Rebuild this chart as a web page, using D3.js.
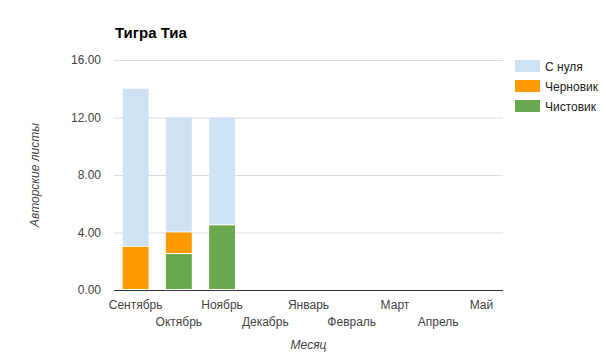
<!DOCTYPE html>
<html>
<head>
<meta charset="utf-8">
<script src="https://cdn.jsdelivr.net/npm/d3@7"></script>
<style>
body{margin:0;background:#fff;}
text{font-family:Arial,"Liberation Sans",sans-serif;}
</style>
</head>
<body>
<svg id="chart"></svg>
<script>
// data
var months=["Сентябрь","Октябрь","Ноябрь","Декабрь","Январь","Февраль","Март","Апрель","Май"]
var clean=[0,2.5,4.5,0,0,0,0,0,0]      // Чистовик
var draft=[3,1.5,0,0,0,0,0,0,0]        // Черновик
var scratch=[11,8,7.5,0,0,0,0,0,0]     // С нуля
var seriesNames=["Чистовик","Черновик","С нуля"]
var yTicks=[0,4,8,12,16]

var colors={"Чистовик":"#6aa84f","Черновик":"#ff9900","С нуля":"#cfe2f3"}

var screen={width:605,height:352}
var margins={left:114,right:102,top:60,bottom:62}
var graph={
    width:screen.width-margins.left-margins.right,
    height:screen.height-margins.top-margins.bottom
}

var svg=d3.select("#chart")
    .attr("width",screen.width)
    .attr("height",screen.height)

var table=months.map(function(m,i){
    return {month:m,"Чистовик":clean[i],"Черновик":draft[i],"С нуля":scratch[i]}
})
var stacked=d3.stack().keys(seriesNames)(table)

var xScale=d3.scaleBand()
    .domain(months)
    .range([0,graph.width])
    .paddingInner(0.4)
    .paddingOuter(0.2)
var yScale=d3.scaleLinear()
    .domain([0,16])
    .range([graph.height,0])

var plot=svg.append("g")
    .attr("transform","translate("+margins.left+","+margins.top+")")

//gridlines
plot.append("g")
    .selectAll("line")
    .data(yTicks.filter(function(t){return t>0}))
    .enter()
    .append("line")
    .attr("x1",0)
    .attr("x2",graph.width)
    .attr("y1",function(t){return yScale(t)+0.5})
    .attr("y2",function(t){return yScale(t)+0.5})
    .attr("stroke","#dddddd")

//y labels
plot.append("g")
    .selectAll("text")
    .data(yTicks)
    .enter()
    .append("text")
    .text(function(t){return t.toFixed(2)})
    .attr("x",-13)
    .attr("y",function(t){return yScale(t)+4})
    .attr("text-anchor","end")
    .attr("font-size","12px")
    .attr("fill","#444")

//bars
var groups=plot.append("g")
    .selectAll("g")
    .data(stacked)
    .enter()
    .append("g")
    .attr("fill",function(s){return colors[s.key]})
groups.selectAll("rect")
    .data(function(s){return s})
    .enter()
    .append("rect")
    .attr("x",function(d){return xScale(d.data.month)})
    .attr("width",xScale.bandwidth())
    .attr("y",function(d){return yScale(d[1])})
    .attr("height",function(d){return Math.max(0,yScale(d[0])-yScale(d[1])-(d[1]-d[0]>0?1:0))})
    .attr("display",function(d){return d[1]-d[0]>0?null:"none"})

//baseline
plot.append("line")
    .attr("x1",0)
    .attr("x2",graph.width)
    .attr("y1",graph.height+0.5)
    .attr("y2",graph.height+0.5)
    .attr("stroke","#333")

//x labels, alternating rows
plot.append("g")
    .selectAll("text")
    .data(months)
    .enter()
    .append("text")
    .text(function(m){return m})
    .attr("x",function(m){return xScale(m)+xScale.bandwidth()/2})
    .attr("y",function(m,i){return graph.height+(i%2==0?19:36)})
    .attr("text-anchor","middle")
    .attr("font-size","12px")
    .attr("fill","#444")

//titles
svg.append("text")
    .text("Тигра Тиа")
    .attr("x",115)
    .attr("y",38)
    .attr("font-size","15px")
    .attr("font-weight","bold")
    .attr("fill","#000")

svg.append("text")
    .text("Месяц")
    .attr("x",margins.left+graph.width/2)
    .attr("y",349)
    .attr("text-anchor","middle")
    .attr("font-size","12px")
    .attr("font-style","italic")
    .attr("fill","#444")

svg.append("g")
    .attr("transform","translate(39,"+(margins.top+graph.height/2)+")")
    .append("text")
    .text("Авторские листы")
    .attr("text-anchor","middle")
    .attr("transform","rotate(-90)")
    .attr("font-size","12px")
    .attr("font-style","italic")
    .attr("fill","#444")

//legend
var legendOrder=["С нуля","Черновик","Чистовик"]
var legend=svg.append("g")
    .selectAll("g")
    .data(legendOrder)
    .enter()
    .append("g")
    .attr("transform",function(k,i){return "translate(515,"+(60+i*20)+")"})
legend.append("rect")
    .attr("width",25)
    .attr("height",12)
    .attr("fill",function(k){return colors[k]})
legend.append("text")
    .text(function(k){return k})
    .attr("x",30)
    .attr("y",10.5)
    .attr("font-size","12px")
    .attr("fill","#222")
</script>
</body>
</html>
